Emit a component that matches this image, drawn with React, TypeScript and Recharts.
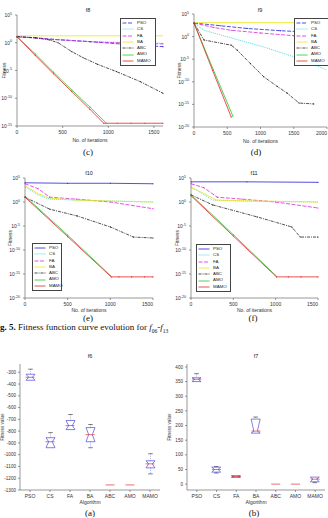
import React from 'react';
import { LineChart, Line, XAxis, YAxis, ComposedChart, Bar, Scatter } from 'recharts';

type Pt = [number, number];

const algorithms = ['PSO', 'CS', 'FA', 'BA', 'ABC', 'AMO', 'MAMO'];
const lineColors = ['#2323d8', '#22d4d4', '#e024e0', '#e8e81c', '#222222', '#2cc42c', '#e22626'];
const dashesTop = ['4 1.5', '1 1', '4 1.5', '', '3 1 1 1', '', ''];
const dashesBottom = ['', '1 1', '4 1.5', '', '3 1 1 1', '', ''];

// convergence curves: [iteration, log10 fitness]
const f8PSO: Pt[] = [[0, 1.1], [200, 0.9], [400, 0.6], [800, 0.2], [1200, -0.3], [1600, -0.7]];
const f8CS: Pt[] = [[0, 1.1], [300, 0.7], [800, 0.2], [1600, -0.1]];
const f8FA: Pt[] = [[0, 1.1], [400, 0.6], [900, 0.1], [1300, -0.1], [1600, -0.2]];
const f8BA: Pt[] = [[0, 1.25], [1600, 1.25]];
const f8ABC: Pt[] = [[0, 1.1], [200, 0.9], [360, 0.5], [450, 0], [600, -1.6], [725, -2.7], [885, -3.9], [1090, -5.2], [1350, -7], [1600, -9.1]];
const f8AMO: Pt[] = [[0, 1.1], [200, -2.0], [400, -5.3], [600, -8.5], [800, -11.6], [980, -14.5]];
const f8MAMO: Pt[] = [[0, 1.1], [200, -2.3], [400, -5.6], [600, -8.8], [800, -12.0], [950, -14.5], [1100, -14.5], [1250, -14.5], [1400, -14.5], [1600, -14.5]];

const f9PSO: Pt[] = [[0, 3], [400, 2.4], [800, 1.8], [1300, 1.3], [2000, 0.8]];
const f9CS: Pt[] = [[0, 3], [150, 1.4], [560, -0.3], [1050, -2.3], [1550, -4.7], [2000, -7.4]];
const f9FA: Pt[] = [[0, 3], [300, 2.0], [560, 1.4], [1000, 0.8], [1500, 0.2], [2000, -0.3]];
const f9BA: Pt[] = [[0, 3.1], [2000, 3.1]];
const f9ABC: Pt[] = [[0, 3], [150, -0.75], [560, -1.9], [650, -3], [850, -6], [1050, -8.9], [1250, -11], [1400, -12.5], [1580, -14.7], [1800, -14.9]];
const f9AMO: Pt[] = [[0, 3], [290, -7.3], [585, -17.6]];
const f9MAMO: Pt[] = [[0, 3], [280, -7.5], [560, -17.8]];

const f10PSO: Pt[] = [[0, 4.0], [500, 3.9], [1000, 3.9], [1500, 3.8]];
const f10CS: Pt[] = [[0, 3.2], [150, 1.5], [290, 0.6], [600, 0.4], [1000, 0.2], [1500, 0.0]];
const f10FA: Pt[] = [[0, 3.8], [150, 2.8], [290, 1.0], [600, 0.6], [1000, 0.0], [1500, -1.4]];
const f10BA: Pt[] = [[0, 3.4], [150, 1.8], [290, 0.8], [600, 0.4], [1000, 0.2], [1500, 0.0]];
const f10ABC: Pt[] = [[0, 1.0], [290, -1.5], [610, -2.9], [1000, -5.2], [1270, -7.3], [1500, -7.5]];
const f10AMO: Pt[] = [[0, 1.2], [500, -6.9], [1000, -15.3]];
const f10MAMO: Pt[] = [[0, 1.0], [500, -7.2], [1010, -15.6], [1100, -15.6], [1250, -15.6], [1400, -15.6], [1500, -15.6]];

const f11PSO: Pt[] = [[0, 4.2], [660, 4.2], [1500, 4.1]];
const f11CS: Pt[] = [[0, 3.2], [255, 0.4], [600, 0.2], [1500, 0.0]];
const f11FA: Pt[] = [[0, 3.8], [150, 3.0], [310, 1.0], [600, 0.6], [1000, 0], [1500, -1.25]];
const f11BA: Pt[] = [[0, 3.0], [130, 2.0], [300, 0.4], [800, 0.2], [1500, 0.0]];
const f11ABC: Pt[] = [[0, 1.5], [255, -0.6], [780, -3.1], [1190, -5.2], [1290, -7.3], [1500, -7.3]];
const f11AMO: Pt[] = [[0, 1.5], [500, -6.8], [1000, -15.3]];
const f11MAMO: Pt[] = [[0, 1.3], [500, -7.1], [1010, -15.6], [1150, -15.6], [1300, -15.6], [1500, -15.6]];

// box plot statistics per algorithm
const f6Hi = [-274, -813, -659, -744, -1257, -1257, -992];
const f6Q3 = [-317, -856, -710, -770, -1257, -1257, -1052];
const f6Med = [-343, -890, -753, -830, -1257, -1257, -1078];
const f6Q1 = [-368, -941, -787, -890, -1257, -1257, -1112];
const f6Lo = [-368, -941, -787, -941, -1257, -1257, -1163];
const f6Out = [[-608, -676], [], [], [], [], [], []];

const f7Hi = [377, 60, 30, 229, 0, 0, 25];
const f7Q3 = [363, 58, 29, 222, 0, 0, 24];
const f7Med = [358, 50, 26, 181, 0, 0, 17];
const f7Q1 = [350, 41, 23, 174, 0, 0, 8];
const f7Lo = [350, 38, 22, 174, 0, 0, 5];
const f7Out = [[390], [], [], [], [], [], []];

const sans = 'Liberation Sans, Arial, sans-serif';
const serif = 'Liberation Serif, Times New Roman, serif';
const axisColor = '#555';
const tickStyle = { fontSize: 5, fill: '#333', fontFamily: sans };

const toRows = (pts: Pt[]) => pts.map(([it, lg]) => ({ it, lg }));

const PowTick = ({ x, y, payload }: any) => (
  <text x={x - 1} y={y + 2} textAnchor="end" fontSize={5} fill="#333" fontFamily={sans}>
    10<tspan dy={-2.4} fontSize={3.6}>{payload.value}</tspan>
  </text>
);

// last label is right-aligned so it stays inside the page
const makeXTick = (xMax: number) => ({ x, y, payload }: any) => (
  <text x={x} y={y + 4} textAnchor={payload.value === xMax ? 'end' : 'middle'} fontSize={5} fill="#333" fontFamily={sans}>
    {payload.value}
  </text>
);

const LegendBox = ({ left, top, width, dashes }: any) => (
  <div style={{ position: 'absolute', left, top, width, border: '0.6px solid #444', background: '#fff', padding: '1px 1px', fontFamily: sans, fontSize: 4.4, color: '#222', lineHeight: '6.3px' }}>
    {algorithms.map((a, i) => (
      <div key={a} style={{ display: 'flex', alignItems: 'center', height: 6.3 }}>
        <svg width={12} height={4} style={{ flex: 'none' }}>
          <line x1={0.5} y1={2} x2={11.5} y2={2} stroke={lineColors[i]} strokeWidth={0.8} strokeDasharray={dashes[i]} />
        </svg>
        <span style={{ marginLeft: 3 }}>{a}</span>
      </div>
    ))}
  </div>
);

const Caption = ({ x, y, text }: any) => (
  <div style={{ position: 'absolute', left: x, top: y, transform: 'translate(-50%, -50%)', fontFamily: serif, fontSize: 9, color: '#111', whiteSpace: 'nowrap' }}>{text}</div>
);

const Title = ({ x, y, text }: any) => (
  <div style={{ position: 'absolute', left: x, top: y, transform: 'translate(-50%, -50%)', fontFamily: sans, fontSize: 5.5, color: '#222', whiteSpace: 'nowrap' }}>{text}</div>
);

function ConvChart({ left, top, width, height, margin, yW, xH, xMax, xTicks, yDomain, yTicks, series, dashes, yLabelOffset }: any) {
  const XTick = makeXTick(xMax);
  return (
    <div style={{ position: 'absolute', left, top, width, height }}>
      <LineChart width={width} height={height} margin={margin}>
        <XAxis type="number" dataKey="it" domain={[0, xMax]} ticks={xTicks} interval={0} height={xH} tick={<XTick />} tickSize={2} stroke={axisColor} strokeWidth={0.6}
          label={{ value: 'No. of iterations', position: 'insideBottom', offset: 4, fontSize: 5, fill: '#333', fontFamily: sans }} />
        <YAxis type="number" domain={yDomain} ticks={yTicks} interval={0} width={yW} tick={<PowTick />} tickSize={2} stroke={axisColor} strokeWidth={0.6}
          label={{ value: 'Fitness', angle: -90, position: 'insideLeft', offset: yLabelOffset, fontSize: 5, fill: '#333', fontFamily: sans, style: { textAnchor: 'middle' } }} />
        <XAxis xAxisId="top" orientation="top" type="number" domain={[0, xMax]} height={0} tick={false} tickLine={false} stroke={axisColor} strokeWidth={0.6} />
        <YAxis yAxisId="right" orientation="right" type="number" domain={yDomain} width={0} tick={false} tickLine={false} stroke={axisColor} strokeWidth={0.6} />
        {series.map((s: Pt[], i: number) => (
          <Line key={algorithms[i]} data={toRows(s)} dataKey="lg" type="linear" stroke={lineColors[i]} strokeWidth={0.8}
            strokeDasharray={dashes[i]} dot={i === 3 || i === 1 ? false : { r: 0.6, fill: lineColors[i], stroke: 'none' }}
            isAnimationActive={false} />
        ))}
      </LineChart>
    </div>
  );
}

const BoxShape = (props: any) => {
  const { x, y, width, height, payload } = props;
  if (!payload || payload.q3 === payload.q1 || !height) return <g />;
  const top = Math.min(y, y + height);
  const h = Math.abs(height);
  const k = h / (payload.q3 - payload.q1);
  const py = (v: number) => top + (payload.q3 - v) * k;
  const l = x, r = x + width, cx = x + width / 2, b = top + h;
  const ym = py(payload.med);
  const ind = width * 0.3;
  const pts = [[l, top], [r, top], [r - ind, ym], [r, b], [l, b], [l + ind, ym]].map(p => p.join(',')).join(' ');
  const yHi = py(payload.hi), yLo = py(payload.lo);
  return (
    <g>
      {yHi < top - 0.3 && <line x1={cx} x2={cx} y1={yHi} y2={top} stroke="#6a6ae0" strokeWidth={0.5} strokeDasharray="1 1" />}
      {yHi < top - 0.3 && <line x1={cx - width / 4} x2={cx + width / 4} y1={yHi} y2={yHi} stroke="#222" strokeWidth={0.6} />}
      {yLo > b + 0.3 && <line x1={cx} x2={cx} y1={b} y2={yLo} stroke="#6a6ae0" strokeWidth={0.5} strokeDasharray="1 1" />}
      {yLo > b + 0.3 && <line x1={cx - width / 4} x2={cx + width / 4} y1={yLo} y2={yLo} stroke="#222" strokeWidth={0.6} />}
      <polygon points={pts} fill="none" stroke="#4a4ae0" strokeWidth={0.7} />
    </g>
  );
};

function BoxChart({ left, top, rightM, yW, rows, domain, ticks, yLabelOffset }: any) {
  const bw = 9;
  const medShape = (p: any) => (p.cy == null || isNaN(p.cy)) ? <g /> :
    <line x1={p.cx - bw / 2} x2={p.cx + bw / 2} y1={p.cy} y2={p.cy} stroke="#e03030" strokeWidth={0.7} />;
  const outShape = (p: any) => (p.cy == null || isNaN(p.cy) || p.payload?.[p.dataKey] == null) ? <g /> :
    <line x1={p.cx - 1.5} x2={p.cx + 1.5} y1={p.cy} y2={p.cy} stroke="#e03030" strokeWidth={0.7} />;
  return (
    <div style={{ position: 'absolute', left, top, width: 164, height: 178 }}>
      <ComposedChart width={164} height={178} data={rows} margin={{ top: 24, right: rightM, bottom: 8, left: 0 }}>
        <XAxis dataKey="name" type="category" height={20} tick={tickStyle} tickSize={2} stroke={axisColor} strokeWidth={0.6} interval={0}
          label={{ value: 'Algorithm', position: 'insideBottom', offset: 6, fontSize: 5, fill: '#333', fontFamily: sans }} />
        <YAxis type="number" domain={domain} ticks={ticks} width={yW} tick={{ ...tickStyle, fontSize: 4.6 }} tickSize={2} stroke={axisColor} strokeWidth={0.6} interval={0}
          label={{ value: 'Fitness value', angle: -90, position: 'insideLeft', offset: yLabelOffset, fontSize: 4.6, fill: '#333', fontFamily: sans, style: { textAnchor: 'middle' } }} />
        <XAxis xAxisId="top" dataKey="name" orientation="top" height={0} tick={false} tickLine={false} stroke={axisColor} strokeWidth={0.6} />
        <YAxis yAxisId="right" orientation="right" type="number" domain={domain} width={0} tick={false} tickLine={false} stroke={axisColor} strokeWidth={0.6} />
        <Bar dataKey={(d: any) => [d.q1, d.q3]} barSize={bw} shape={<BoxShape />} isAnimationActive={false} />
        <Scatter dataKey="med" shape={medShape} isAnimationActive={false} />
        <Scatter dataKey="o1" shape={outShape} isAnimationActive={false} />
        <Scatter dataKey="o2" shape={outShape} isAnimationActive={false} />
      </ComposedChart>
    </div>
  );
}

const makeRows = (hi: number[], q3: number[], med: number[], q1: number[], lo: number[], out: number[][]) =>
  algorithms.map((name, i) => ({ name, hi: hi[i], q3: q3[i], med: med[i], q1: q1[i], lo: lo[i], o1: out[i][0] ?? null, o2: out[i][1] ?? null }));

export default function App() {
  const rowsA = makeRows(f6Hi, f6Q3, f6Med, f6Q1, f6Lo, f6Out);
  const rowsB = makeRows(f7Hi, f7Q3, f7Med, f7Q1, f7Lo, f7Out);
  return (
    <div style={{ position: 'absolute', left: 0, top: 0, width: 328, height: 518, background: '#fff', overflow: 'hidden' }}>
      <ConvChart left={0} top={0} width={164} height={150} margin={{ top: 15, right: 1, bottom: 4, left: 0 }} yW={17} xH={20}
        xMax={1600} xTicks={[0, 500, 1000, 1500]} yDomain={[-15, 5]} yTicks={[-15, -10, -5, 0, 5]}
        series={[f8PSO, f8CS, f8FA, f8BA, f8ABC, f8AMO, f8MAMO]} dashes={dashesTop} yLabelOffset={4} />
      <ConvChart left={164} top={0} width={164} height={150} margin={{ top: 14, right: 1, bottom: 3, left: 0 }} yW={30} xH={20}
        xMax={2000} xTicks={[0, 500, 1000, 1500, 2000]} yDomain={[-20, 5]} yTicks={[-20, -15, -10, -5, 0, 5]}
        series={[f9PSO, f9CS, f9FA, f9BA, f9ABC, f9AMO, f9MAMO]} dashes={dashesTop} yLabelOffset={15} />
      <ConvChart left={0} top={160} width={164} height={160} margin={{ top: 18, right: 11, bottom: 4, left: 0 }} yW={25} xH={18}
        xMax={1500} xTicks={[0, 500, 1000, 1500]} yDomain={[-20, 5]} yTicks={[-20, -15, -10, -5, 0, 5]}
        series={[f10PSO, f10CS, f10FA, f10BA, f10ABC, f10AMO, f10MAMO]} dashes={dashesBottom} yLabelOffset={10} />
      <ConvChart left={164} top={160} width={164} height={160} margin={{ top: 18, right: 10, bottom: 4, left: 0 }} yW={27} xH={18}
        xMax={1500} xTicks={[0, 500, 1000, 1500]} yDomain={[-20, 5]} yTicks={[-20, -15, -10, -5, 0, 5]}
        series={[f11PSO, f11CS, f11FA, f11BA, f11ABC, f11AMO, f11MAMO]} dashes={dashesBottom} yLabelOffset={13} />

      <LegendBox left={120} top={18} width={32} dashes={dashesTop} />
      <LegendBox left={294} top={18} width={32} dashes={dashesTop} />
      <LegendBox left={32} top={243} width={26} dashes={dashesBottom} />
      <LegendBox left={196} top={244} width={31} dashes={dashesBottom} />

      <Title x={88} y={10} text="f8" />
      <Title x={260} y={10} text="f9" />
      <Title x={89} y={173} text="f10" />
      <Title x={254} y={173} text="f11" />
      <Caption x={88} y={152} text="(c)" />
      <Caption x={256} y={152} text="(d)" />
      <Caption x={88} y={318} text="(e)" />
      <Caption x={253} y={318} text="(f)" />

      <div style={{ position: 'absolute', left: 0, top: 322, fontFamily: serif, fontSize: 9, color: '#111', whiteSpace: 'nowrap' }}>
        <b>g. 5.</b> Fitness function curve evolution for <i>f</i><sub style={{ fontSize: 5.5 }}>06</sub>-<i>f</i><sub style={{ fontSize: 5.5 }}>13</sub>
      </div>

      <BoxChart left={0} top={340} rightM={4} yW={20} rows={rowsA} domain={[-1300, -230]}
        ticks={[-1300, -1200, -1100, -1000, -900, -800, -700, -600, -500, -400, -300]} yLabelOffset={2} />
      <BoxChart left={164} top={340} rightM={3} yW={23} rows={rowsB} domain={[-20, 410]}
        ticks={[0, 50, 100, 150, 200, 250, 300, 350, 400]} yLabelOffset={5} />
      <Title x={90} y={356} text="f6" />
      <Title x={256} y={356} text="f7" />
      <Caption x={90} y={513} text="(a)" />
      <Caption x={254} y={513} text="(b)" />
    </div>
  );
}
